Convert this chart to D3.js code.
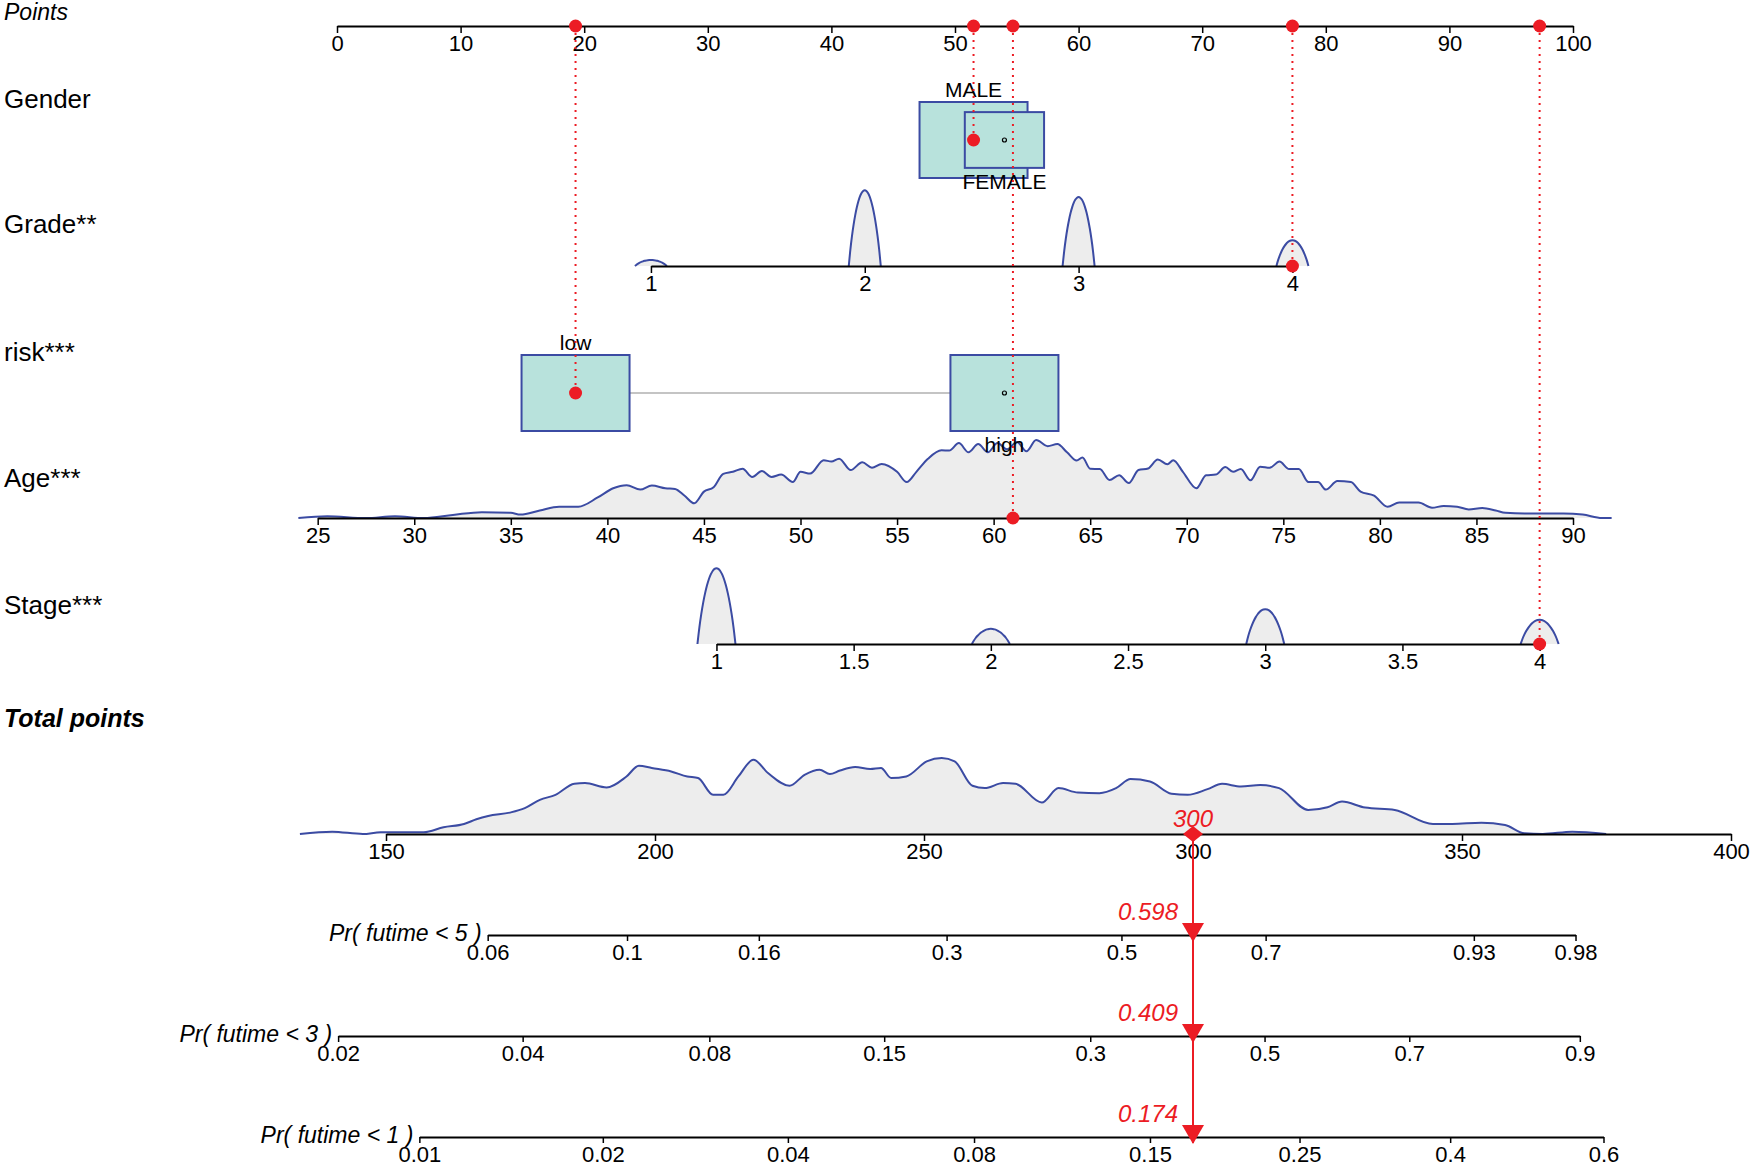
<!DOCTYPE html>
<html>
<head>
<meta charset="utf-8">
<script src="https://cdn.jsdelivr.net/npm/d3@7"></script>
<style>
  body { margin: 0; background: #fff; }
  svg { font-family: "Liberation Sans", Arial, Helvetica, sans-serif; }
</style>
</head>
<body>
<svg id="chart"></svg>
<script>
// ---- data ----
const pointTicks = [0, 10, 20, 30, 40, 50, 60, 70, 80, 90, 100];

const genderLevels = ["MALE", "FEMALE"];
const genderPoints = [51.5, 54.0];
const genderFreq = [0.65, 0.35];

const gradeTicks = [1, 2, 3, 4];
const gradeDensity = [0.08, 1.0, 0.91, 0.34];
const gradePointRange = [25.4, 77.3];   // points at grade 1 and grade 4

const riskLevels = ["low", "high"];
const riskPoints = [19.3, 54.0];
const riskFreq = [0.5, 0.5];

const ageTicks = [25, 30, 35, 40, 45, 50, 55, 60, 65, 70, 75, 80, 85, 90];
const ageZeroToMax = [26, 90];          // age giving 0 and 100 points
const ageGrid = [24, 25.5, 27.5, 29, 30.5, 32, 33.5, 35, 35.5, 36.5, 37.5, 38.5, 39.5, 40.3, 41, 41.7, 42.3, 43, 43.5, 44,
  44.5, 45, 45.5, 46, 46.5, 47, 47.5, 48, 48.5, 49, 49.6, 50, 50.5, 51.2, 51.6, 52, 52.6, 53.2, 53.7, 54.2,
  55, 55.5, 56, 56.6, 57.3, 57.7, 58.2, 58.7, 59.2, 59.7, 60.2, 60.7, 61.2, 61.7, 62.2, 62.8, 63.3, 63.8, 64.3, 64.6,
  65, 65.5, 66, 66.5, 67, 67.5, 68, 68.5, 69, 69.3, 69.8, 70.5, 71, 71.5, 72, 72.4, 72.8, 73.3, 73.8, 74.3,
  74.8, 75.3, 75.8, 76.3, 76.8, 77.2, 77.8, 78.5, 79, 79.7, 80.4, 81, 82, 82.7, 83.3, 84, 84.6, 85.3, 86, 86.5,
  87.5, 88.5, 89.5, 90.5, 91.5, 92];
const ageDensity = [0, 1.7, 0, 1.7, 0, 3, 5.7, 5, 3.3, 7.3, 11, 11, 20, 29, 32, 27.7, 31.7, 29, 28.3, 21.7,
  14.3, 25.7, 30, 43, 45, 48, 40, 45.7, 40, 42.3, 35, 45, 43.3, 56.3, 55, 57.7, 46.7, 54.3, 49, 52.7,
  45, 35, 45, 57.7, 66, 65.7, 73, 64, 72, 64, 73, 67, 74, 65, 76, 70, 72, 64, 56, 59,
  48, 47.7, 37, 41.7, 34, 46.7, 48.3, 57, 52.3, 56.3, 45, 29, 41.7, 42.3, 49.7, 45, 47.7, 36.7, 50, 49,
  55, 47.7, 47.7, 35, 35, 27.7, 36, 35, 25.7, 21.7, 11, 15, 15, 10, 11.7, 11, 8.3, 9.7, 7.3, 5,
  4.3, 4.3, 4.3, 3.3, 0, 0];

const stageTicks = [1, 1.5, 2, 2.5, 3, 3.5, 4];
const stageLevels = [1, 2, 3, 4];
const stageDensity = [1.0, 0.2, 0.46, 0.32];
const stagePointRange = [30.7, 97.3];   // points at stage 1 and stage 4

const totalTicks = [150, 200, 250, 300, 350, 400];
const totalGrid = [134, 140, 145.7, 149, 153, 157, 160.7, 164.5, 166.8, 169, 173, 175.8, 178.6, 181.5, 185, 187, 191, 194.7, 197, 199.4,
  203, 206, 208, 210.8, 212.7, 215.5, 218.3, 221, 225, 227.8, 230.6, 232.5, 234.4, 237.2, 240, 242, 243.9, 246.7, 250.5, 253.3,
  255.7, 259, 261.3, 264.7, 267, 271.9, 275, 278.6, 282.6, 285.7, 288.4, 292, 296, 299, 302.7, 305.4, 308.9, 312.5, 316, 321.4,
  325, 327.7, 332, 337.5, 344.6, 348.2, 353.6, 358, 361.6, 365, 370.5, 376.8];
const totalDensity = [0, 2.3, 0, 1.7, 1.7, 1.7, 6.7, 10, 14.7, 18, 21.3, 25.7, 34, 39, 50, 50.7, 46.3, 57.3, 68, 65.7,
  62.3, 57.3, 55.7, 39, 39, 57.3, 74, 60.7, 48, 59, 64, 59.7, 63.3, 66.7, 64.7, 65.7, 55.7, 57.3, 72.3, 75.7,
  72.3, 48, 45.7, 50.7, 50, 31.3, 45.7, 41.3, 40.7, 45.7, 54.7, 52.3, 40, 39, 44.7, 50, 47.3, 48.7, 45.7, 24,
  26.7, 32.3, 26.3, 24, 10, 10, 11.3, 9, 0.7, 0, 2.3, 0];

const probNames = ["Pr( futime < 5 )", "Pr( futime < 3 )", "Pr( futime < 1 )"];
const pr5Labels = ["0.06", "0.1", "0.16", "0.3", "0.5", "0.7", "0.93", "0.98"];
const pr5Points = [168.9, 194.8, 219.3, 254.2, 286.7, 313.5, 352.2, 371.1];
const pr3Labels = ["0.02", "0.04", "0.08", "0.15", "0.3", "0.5", "0.7", "0.9"];
const pr3Points = [141.1, 175.4, 210.1, 242.6, 280.9, 313.3, 340.2, 371.9];
const pr1Labels = ["0.01", "0.02", "0.04", "0.08", "0.15", "0.25", "0.4", "0.6"];
const pr1Points = [156.2, 190.3, 224.7, 259.3, 292.0, 319.8, 347.8, 376.3];

// the patient shown in red
const patientGender = "MALE";
const patientGrade = 4;
const patientRisk = "low";
const patientAge = 61;
const patientStage = 4;
const patientProbs = [0.598, 0.409, 0.174];

// ---- layout ----
const width = 1755, height = 1166;
const RED = "#ec1c24", BLUE = "#3b4ba3", BOXFILL = "#b8e2dc", DENSFILL = "#ededed";
const rowY = { points: 26, gender: 140, grade: 266, risk: 393, age: 518, stage: 644, total: 834 };
const probY = [935, 1036, 1137];
const maxBump = 76, boxW = 108, boxH = 76;

const svg = d3.select("#chart").attr("width", width).attr("height", height);

const ptsX = d3.scaleLinear().domain([0, 100]).range([337, 1573]);
const totalX = d3.scaleLinear().domain([150, 400]).range([386, 1731]);
const gradePts = d3.scaleLinear().domain([1, 4]).range(gradePointRange);
const stagePts = d3.scaleLinear().domain([1, 4]).range(stagePointRange);
const agePts = d3.scaleLinear().domain(ageZeroToMax).range([0, 100]);
const gradeX = v => ptsX(gradePts(v));
const stageX = v => ptsX(stagePts(v));
const ageX = v => ptsX(agePts(v));

function styleAxis(g, fontSize) {
  g.select(".domain").attr("stroke", "#000").attr("stroke-width", 2);
  g.selectAll(".tick line").attr("stroke", "#000").attr("stroke-width", 1.5);
  g.selectAll(".tick text").attr("font-size", fontSize).attr("fill", "#000").attr("font-family", null);
}

function drawAxis(y, scale, values, labels, fontSize = 22) {
  const ax = d3.axisBottom(scale).tickValues(values).tickSize(7).tickSizeOuter(0).tickPadding(2)
    .tickFormat((d, i) => labels ? labels[i] : d);
  const g = svg.append("g").attr("transform", `translate(0,${y})`).call(ax);
  styleAxis(g, fontSize);
  return g;
}

function varLabel(text, y, opts = {}) {
  svg.append("text").attr("x", 4).attr("y", y)
    .attr("font-size", opts.size || 26)
    .attr("font-style", opts.italic ? "italic" : null)
    .attr("font-weight", opts.bold ? "bold" : null)
    .text(text);
}

// density for a continuous variable
function drawDensity(grid, dens, xf, y0, maxH) {
  const h = d3.scaleLinear().domain([0, d3.max(dens)]).range([0, maxH]);
  const pts = grid.map((v, i) => [xf(v), y0 - h(dens[i])]);
  svg.append("path").datum(pts)
    .attr("d", d3.area().x(d => d[0]).y0(y0).y1(d => d[1]).curve(d3.curveMonotoneX))
    .attr("fill", DENSFILL);
  svg.append("path").datum(pts)
    .attr("d", d3.line().curve(d3.curveMonotoneX))
    .attr("fill", "none").attr("stroke", BLUE).attr("stroke-width", 2);
}

// little bumps for discrete levels
function drawBumps(levels, dens, xf, y0, halfW) {
  const t = d3.range(-1, 1.0001, 0.1);
  levels.forEach((lv, i) => {
    const cx = xf(lv), hh = dens[i] * maxBump;
    const pts = t.map(s => [cx + s * halfW, y0 - hh * Math.pow(Math.max(0, 1 - s * s), 0.9)]);
    svg.append("path").datum(pts)
      .attr("d", d3.area().x(d => d[0]).y0(y0).y1(d => d[1]).curve(d3.curveBasis))
      .attr("fill", DENSFILL);
    svg.append("path").datum(pts)
      .attr("d", d3.line().curve(d3.curveBasis))
      .attr("fill", "none").attr("stroke", BLUE).attr("stroke-width", 2);
  });
}

// boxes for categorical variables
function drawBoxes(levels, points, freq, cy, labelSide) {
  const fmax = d3.max(freq);
  if (levels.length > 1) {
    svg.append("line")
      .attr("x1", ptsX(d3.min(points))).attr("x2", ptsX(d3.max(points)))
      .attr("y1", cy).attr("y2", cy)
      .attr("stroke", "#c4c4c4").attr("stroke-width", 2);
  }
  levels.forEach((lv, i) => {
    const s = Math.sqrt(freq[i] / fmax);
    const w = boxW * s, hgt = boxH * s, cx = ptsX(points[i]);
    svg.append("rect").attr("x", cx - w / 2).attr("y", cy - hgt / 2)
      .attr("width", w).attr("height", hgt)
      .attr("fill", BOXFILL).attr("stroke", BLUE).attr("stroke-width", 2);
    svg.append("circle").attr("cx", cx).attr("cy", cy).attr("r", 2)
      .attr("fill", "none").attr("stroke", "#000").attr("stroke-width", 1.2);
    const above = labelSide[i] === "above";
    svg.append("text").attr("x", cx)
      .attr("y", above ? cy - hgt / 2 - 5 : cy + hgt / 2 + 21)
      .attr("text-anchor", "middle").attr("font-size", 21).text(lv);
  });
}

// ---- left labels ----
varLabel("Points", 20, { italic: true, size: 23 });
varLabel("Gender", 108);
varLabel("Grade**", 233);
varLabel("risk***", 361);
varLabel("Age***", 487);
varLabel("Stage***", 614);
varLabel("Total points", 727, { italic: true, bold: true, size: 25 });

// ---- rows ----
drawAxis(rowY.points, ptsX, pointTicks);

// age density first so the "high" label sits on top of it
drawDensity(ageGrid, ageDensity, ageX, rowY.age, 78);
drawAxis(rowY.age, d3.scaleLinear().domain([25, 90]).range([ageX(25), ageX(90)]), ageTicks);

drawBoxes(genderLevels, genderPoints, genderFreq, rowY.gender, ["above", "below"]);

drawBumps(gradeTicks, gradeDensity, gradeX, rowY.grade, 16);
drawAxis(rowY.grade, d3.scaleLinear().domain([1, 4]).range([gradeX(1), gradeX(4)]), gradeTicks);

drawBoxes(riskLevels, riskPoints, riskFreq, rowY.risk, ["above", "below"]);

drawBumps(stageLevels, stageDensity, stageX, rowY.stage, 19);
drawAxis(rowY.stage, d3.scaleLinear().domain([1, 4]).range([stageX(1), stageX(4)]), stageTicks);

drawDensity(totalGrid, totalDensity, totalX, rowY.total, 76);
drawAxis(rowY.total, totalX, totalTicks);

const probSets = [[pr5Points, pr5Labels], [pr3Points, pr3Labels], [pr1Points, pr1Labels]];
probSets.forEach(([pts, labs], k) => {
  const sc = d3.scaleLinear().domain([pts[0], pts[pts.length - 1]])
    .range([totalX(pts[0]), totalX(pts[pts.length - 1])]);
  const g = drawAxis(probY[k], sc, pts, labs, 22);
  g.select(".domain").attr("stroke-width", 1.8);
  g.selectAll(".tick line").attr("y2", 6);
  svg.append("text").attr("x", totalX(pts[0]) - 6).attr("y", probY[k] + 6)
    .attr("text-anchor", "end").attr("font-size", 23).attr("font-style", "italic")
    .text(probNames[k]);
});

// ---- patient overlay ----
const patientPts = [
  { p: genderPoints[genderLevels.indexOf(patientGender)], y: rowY.gender },
  { p: gradePts(patientGrade), y: rowY.grade },
  { p: riskPoints[riskLevels.indexOf(patientRisk)], y: rowY.risk },
  { p: agePts(patientAge), y: rowY.age },
  { p: stagePts(patientStage), y: rowY.stage }
];

svg.append("g").selectAll("line").data(patientPts).join("line")
  .attr("x1", d => ptsX(d.p)).attr("x2", d => ptsX(d.p))
  .attr("y1", rowY.points).attr("y2", d => d.y)
  .attr("stroke", RED).attr("stroke-width", 2).attr("stroke-dasharray", "2,5");

svg.append("g").selectAll("circle.top").data(patientPts).join("circle")
  .attr("cx", d => ptsX(d.p)).attr("cy", rowY.points).attr("r", 6.5).attr("fill", RED);
svg.append("g").selectAll("circle.row").data(patientPts).join("circle")
  .attr("cx", d => ptsX(d.p)).attr("cy", d => d.y).attr("r", 6.5).attr("fill", RED);

const totalPts = Math.round(d3.sum(patientPts, d => d.p));
const tx = totalX(totalPts);

svg.append("line").attr("x1", tx).attr("x2", tx)
  .attr("y1", rowY.total).attr("y2", probY[2] + 6)
  .attr("stroke", RED).attr("stroke-width", 2);

svg.append("path").attr("d", `M${tx},${rowY.total - 8}L${tx + 10},${rowY.total}L${tx},${rowY.total + 8}L${tx - 10},${rowY.total}Z`)
  .attr("fill", RED);
svg.append("text").attr("x", tx).attr("y", rowY.total - 7).attr("text-anchor", "middle")
  .attr("font-size", 24).attr("font-style", "italic").attr("fill", RED).text(totalPts);

probY.forEach((y, k) => {
  svg.append("path").attr("d", `M${tx - 11},${y - 12}L${tx + 11},${y - 12}L${tx},${y + 7}Z`).attr("fill", RED);
  svg.append("text").attr("x", tx - 15).attr("y", y - 15).attr("text-anchor", "end")
    .attr("font-size", 24).attr("font-style", "italic").attr("fill", RED)
    .text(d3.format(".3f")(patientProbs[k]));
});
</script>
</body>
</html>
